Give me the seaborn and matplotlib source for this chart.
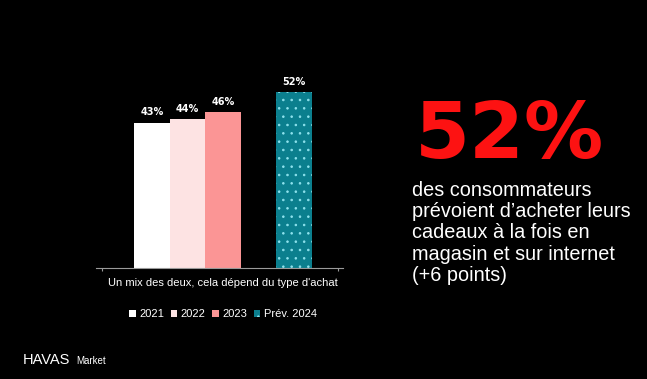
import pandas as pd
import seaborn as sns
import matplotlib.pyplot as plt
from matplotlib.patches import Patch

# chart data
years = ['2021', '2022', '2023', 'Prév. 2024']
values = [43, 44, 46, 52]
category = "Un mix des deux, cela dépend du type d'achat"
colors = ['#ffffff', '#fde3e3', '#fb9595', '#0b7f8e']

headline = '52%'
body = ("des consommateurs\nprévoient d’acheter leurs\ncadeaux à la fois en\n"
        "magasin et sur internet\n(+6 points)")

df = pd.DataFrame({'cat': [category] * len(years), 'year': years, 'val': values})

plt.rcParams['hatch.color'] = '#8fe3ee'
plt.rcParams['hatch.linewidth'] = 0.6

fig = plt.figure(figsize=(6.47, 3.79), dpi=100, facecolor='black')
ax = fig.add_axes([96 / 647, 1 - 268 / 379, 247 / 647, 203 / 379])
ax.set_facecolor('black')

# empty hue level leaves the gap before the 2024 bar
hue_order = years[:3] + [' '] + years[3:]
palette = dict(zip(years, colors))
palette[' '] = 'black'

sns.barplot(data=df, x='cat', y='val', hue='year', hue_order=hue_order,
            palette=palette, width=0.754, saturation=1, legend=False, ax=ax)

for cont in ax.containers:
    if len(cont) == 0:
        continue
    for bar in cont:
        bar.set_linewidth(0)
        # the teal bar is the forecast one
        if bar.get_height() == values[-1]:
            bar.set_hatch('..')
            bar.set_edgecolor('#8fe3ee')
    ax.bar_label(cont, fmt='{:.0f}%', padding=4, color='white',
                 fontsize=7, fontweight='bold', family='DejaVu Sans')

ax.set_ylim(0, 60)
ax.set_xlim(-0.538, 0.508)
ax.set_yticks([])
ax.set_xlabel('')
ax.set_ylabel('')
for s in ['top', 'right', 'left']:
    ax.spines[s].set_visible(False)
ax.spines['bottom'].set_color('#9a9a9a')
ax.spines['bottom'].set_linewidth(0.8)
ax.tick_params(axis='x', which='major', length=0, pad=7, labelcolor='white',
               labelsize=8)
for lab in ax.get_xticklabels():
    lab.set_family('Liberation Sans')
ax.set_xticks([-0.513, 0.487], minor=True)
ax.tick_params(axis='x', which='minor', length=2.5, color='#9a9a9a', width=0.8)

handles = []
for yr, c in zip(years, colors):
    if yr == 'Prév. 2024':
        handles.append(Patch(facecolor=c, edgecolor='#8fe3ee', hatch='..', linewidth=0))
    else:
        handles.append(Patch(facecolor=c, linewidth=0))
fig.legend(handles, years, loc='center', bbox_to_anchor=(223 / 647, 1 - 314 / 379),
           ncol=4, frameon=False, handlelength=0.6, handleheight=0.6,
           handletextpad=0.3, columnspacing=0.6, labelcolor='white',
           prop={'family': 'Liberation Sans', 'size': 8})

# right hand text
fig.text(415 / 647, 1 - 158 / 379, headline, color='#fd1212', fontsize=57,
         fontweight='bold', family='DejaVu Sans', va='baseline', ha='left')
fig.text(412 / 647, 1 - 181 / 379, body, color='white', fontsize=14.3,
         family='Liberation Sans', va='top', ha='left', linespacing=1.15)

# logo
fig.text(23 / 647, 1 - 364 / 379, 'HAVAS', color='white', fontsize=10.5,
         family='Liberation Sans', va='baseline', ha='left')
fig.text(76 / 647, 1 - 364 / 379, 'Market', color='white', fontsize=7,
         family='Liberation Sans', va='baseline', ha='left')

fig.savefig('out.png', dpi=100, facecolor='black')
